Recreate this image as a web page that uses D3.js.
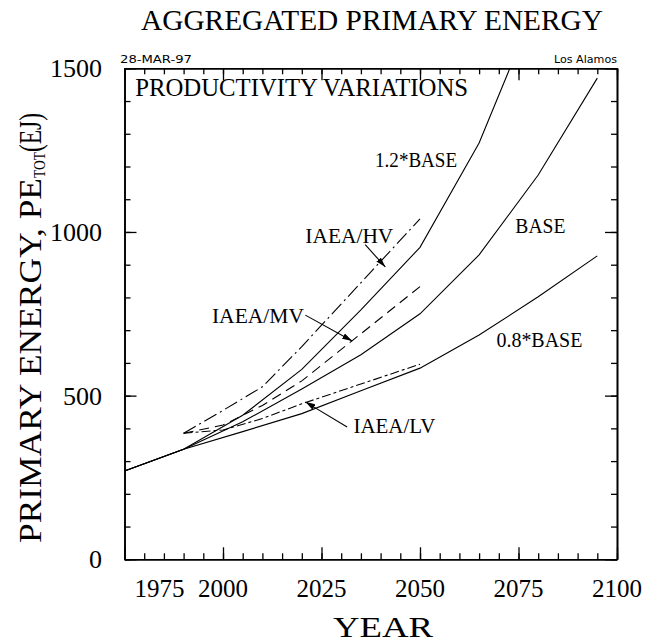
<!DOCTYPE html>
<html><head><meta charset="utf-8">
<script src="https://cdn.jsdelivr.net/npm/d3@7"></script>
<style>body{margin:0;background:#fff}svg{display:block}</style>
</head><body>
<svg id="chart" width="646" height="644"></svg>
<script>
// ---------------- data ----------------
const modelYears = [1975, 1990, 2005, 2020, 2035, 2050, 2065, 2080, 2095];
const base08 = [270, 336, 390, 445, 515, 584, 685, 802, 927];
const base   = [270, 336, 420, 520, 625, 750, 930, 1174, 1470];
const base12 = [270, 336, 440, 580, 762, 953, 1272, 1710, 2250];

const iaeaYears = [1990, 2000, 2010, 2020, 2050];
const iaeaHV = [385, 455, 527, 650, 1040];
const iaeaMV = [385, 410, 470, 545, 833];
const iaeaLV = [385, 395, 430, 475, 596];

const xMajor = [1975, 2000, 2025, 2050, 2075, 2100];
const xMinor = d3.range(1975, 2101, 5);
const yMajor = [0, 500, 1000, 1500];
const yMinor = d3.range(0, 1501, 100);

// ---------------- layout ----------------
const svg = d3.select("#chart");
const L = 124.5, R = 617, T = 68.3, B = 559.3;
const x = d3.scaleLinear().domain([1975, 2100]).range([L, R]);
const y = d3.scaleLinear().domain([0, 1500]).range([B, T]);
const serif = "'Liberation Serif','Times New Roman',serif";
const sans = "'DejaVu Sans','Liberation Sans',sans-serif";

svg.append("rect").attr("width", 646).attr("height", 644).attr("fill", "#fff");

svg.append("clipPath").attr("id", "clip").append("rect")
  .attr("x", L).attr("y", T).attr("width", R - L).attr("height", B - T);

function axis(gen, tx, ty) {
  const g = svg.append("g").attr("transform", `translate(${tx},${ty})`).call(gen);
  g.selectAll("text").remove();
  g.select(".domain").attr("stroke", "#000").attr("stroke-width", 1.6);
  g.selectAll(".tick line").attr("stroke", "#000").attr("stroke-width", 1.3);
  return g;
}
axis(d3.axisBottom(x).tickValues(xMinor).tickSize(-6).tickSizeOuter(0).tickFormat(""), 0, B);
axis(d3.axisBottom(x).tickValues(xMajor).tickSize(-12).tickSizeOuter(0).tickFormat(""), 0, B);
axis(d3.axisTop(x).tickValues(xMinor).tickSize(-6).tickSizeOuter(0).tickFormat(""), 0, T);
axis(d3.axisTop(x).tickValues(xMajor).tickSize(-12).tickSizeOuter(0).tickFormat(""), 0, T);
axis(d3.axisLeft(y).tickValues(yMinor).tickSize(-6).tickSizeOuter(0).tickFormat(""), L, 0);
axis(d3.axisLeft(y).tickValues(yMajor).tickSize(-12).tickSizeOuter(0).tickFormat(""), L, 0);
axis(d3.axisRight(y).tickValues(yMinor).tickSize(-6).tickSizeOuter(0).tickFormat(""), R, 0);
axis(d3.axisRight(y).tickValues(yMajor).tickSize(-12).tickSizeOuter(0).tickFormat(""), R, 0);

// tick labels
svg.append("g").selectAll("text").data(xMajor).join("text")
  .attr("x", (d, i) => i === 0 ? x(d) + 10 : x(d))
  .attr("y", 597)
  .attr("text-anchor", (d, i) => i === 0 ? "start" : "middle")
  .attr("font-family", serif).attr("font-size", 25)
  .text(d => d);
svg.append("g").selectAll("text").data(yMajor).join("text")
  .attr("x", 102).attr("y", d => y(d) + 9)
  .attr("text-anchor", "end")
  .attr("font-family", serif).attr("font-size", 26)
  .text(d => d);

// lines
const line = d3.line().x(d => x(d[0])).y(d => y(d[1]));
const plot = svg.append("g").attr("clip-path", "url(#clip)");
function series(years, vals, dash) {
  plot.append("path").datum(years.map((yr, i) => [yr, vals[i]]))
    .attr("d", line).attr("fill", "none").attr("stroke", "#000")
    .attr("stroke-width", 1.1).attr("stroke-dasharray", dash || null);
}
series(modelYears, base08);
series(modelYears, base);
series(modelYears, base12);
series(iaeaYears, iaeaHV, "14,4,2,4");
series(iaeaYears, iaeaMV, "10,6");
series(iaeaYears, iaeaLV, "9,3,3,3");

function txt(str, px, py, size, width, family, anchor) {
  const t = svg.append("text").attr("x", px).attr("y", py)
    .attr("font-family", family || serif).attr("font-size", size)
    .attr("text-anchor", anchor || "start").text(str);
  if (width) t.attr("textLength", width).attr("lengthAdjust", "spacingAndGlyphs");
  return t;
}

// titles
txt("AGGREGATED PRIMARY ENERGY", 372, 30, 29, 462, serif, "middle");
txt("28-MAR-97", 120, 63, 10.5, 72, sans);
txt("Los Alamos", 617, 63, 10.5, 63, sans, "end");
txt("YEAR", 383, 637, 30, 100, serif, "middle");

// y-axis title (rotated)
const yt = svg.append("text").attr("transform", "translate(41,543) rotate(-90)")
  .attr("font-family", serif).attr("font-size", 32);
yt.append("tspan").text("PRIMARY ENERGY, PE").attr("textLength", 365).attr("lengthAdjust", "spacingAndGlyphs");
yt.append("tspan").text("TOT").attr("font-size", 17).attr("dy", 4).attr("textLength", 26).attr("lengthAdjust", "spacingAndGlyphs");
yt.append("tspan").text("(EJ)").attr("dy", -4).attr("textLength", 39).attr("lengthAdjust", "spacingAndGlyphs");

// annotations (data coordinates)
const notes = [
  {t: "PRODUCTIVITY VARIATIONS", yr: 1977.7, v: 1416, s: 25, w: 333},
  {t: "1.2*BASE", yr: 2038.6, v: 1199, s: 20, w: 82},
  {t: "BASE", yr: 2074.2, v: 997, s: 20, w: 50},
  {t: "IAEA/HV", yr: 2020.9, v: 966, s: 20, w: 88},
  {t: "IAEA/MV", yr: 1997.2, v: 722, s: 20, w: 92},
  {t: "IAEA/LV", yr: 2033.1, v: 386, s: 20, w: 82},
  {t: "0.8*BASE", yr: 2069.4, v: 649, s: 20, w: 86}
];
notes.forEach(n => txt(n.t, x(n.yr), y(n.v), n.s, n.w));

const arrows = [
  {from: [2036.1, 961], to: [2041.2, 893]},
  {from: [2020.9, 746], to: [2032.8, 667]},
  {from: [2031.5, 404], to: [2020.9, 481]}
];
svg.append("defs").append("marker").attr("id", "ah")
  .attr("viewBox", "0 0 10 6").attr("refX", 10).attr("refY", 3)
  .attr("markerWidth", 10).attr("markerHeight", 6).attr("markerUnits", "userSpaceOnUse")
  .attr("orient", "auto")
  .append("path").attr("d", "M0,0 L10,3 L0,6 Z").attr("fill", "#000");
arrows.forEach(a => {
  svg.append("line")
    .attr("x1", x(a.from[0])).attr("y1", y(a.from[1]))
    .attr("x2", x(a.to[0])).attr("y2", y(a.to[1]))
    .attr("stroke", "#000").attr("stroke-width", 1.1)
    .attr("marker-end", "url(#ah)");
});
</script>
</body></html>
